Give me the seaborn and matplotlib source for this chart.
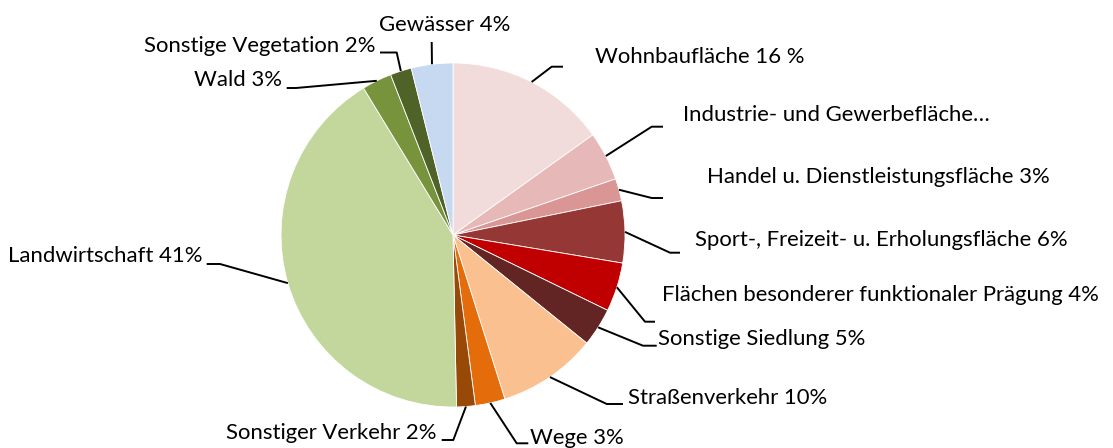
import matplotlib
matplotlib.use("Agg")
import matplotlib.pyplot as plt
import seaborn as sns
import numpy as np

# Flächennutzung: Anteile, im Uhrzeigersinn ab 12 Uhr
categories = [
    "Wohnbaufläche", "Industrie- und Gewerbefläche", "Handel u. Dienstleistungsfläche",
    "Sport-, Freizeit- u. Erholungsfläche", "Flächen besonderer funktionaler Prägung",
    "Sonstige Siedlung", "Straßenverkehr", "Wege", "Sonstiger Verkehr",
    "Landwirtschaft", "Wald", "Sonstige Vegetation", "Gewässer",
]
shares = [15.1, 4.6, 2.1, 5.8, 4.6, 3.6, 9.3, 2.8, 1.75, 41.6, 2.8, 2.0, 3.9]
labels = [
    "Wohnbaufläche 16 %", "Industrie- und Gewerbefläche…", "Handel u. Dienstleistungsfläche 3%",
    "Sport-, Freizeit- u. Erholungsfläche 6%", "Flächen besonderer funktionaler Prägung 4%",
    "Sonstige Siedlung 5%", "Straßenverkehr 10%", "Wege 3%", "Sonstiger Verkehr 2%",
    "Landwirtschaft 41%", "Wald 3%", "Sonstige Vegetation 2%", "Gewässer 4%",
]
colors = [
    "#F2DCDB", "#E6B9B8", "#D99694", "#953735", "#C00000", "#632523",
    "#FAC090", "#E46C0A", "#984807", "#C3D69B", "#77933C", "#4F6228", "#C6D9F1",
]

# layout of the labels in pixel coordinates:
# (text x, text y, alignment, elbow x, elbow y, end x)
label_layout = [
    (595, 57, "left", 551.7, 66.7, 563),
    (683, 115, "left", 651.7, 126.7, 663),
    (707, 177, "left", 651.7, 198, 663),
    (695, 240, "left", 670, 252.7, 680),
    (662, 295, "left", 645, 321.7, 655),
    (658, 339, "left", 643, 345.7, 656.7),
    (628, 398, "left", 606.7, 404, 623),
    (530, 438, "left", 516.7, 443.3, 528.3),
    (437, 433, "right", 453.3, 440, 441.7),
    (202, 256, "right", 220, 264, 206.7),
    (282, 80, "right", 296, 88, 286.7),
    (375, 46, "right", 396.7, 52.5, 380),
    (445, 25, "center", 431.7, 42, 431.7),
]

W, H = 1113, 448
cx, cy, r = 453, 235, 172

sns.set_theme(style="white")
plt.rcParams["font.family"] = ["Lato", "DejaVu Sans"]

fig = plt.figure(figsize=(W / 100, H / 100), dpi=100)
ax = fig.add_axes([0, 0, 1, 1])

wedges, _ = ax.pie(
    shares,
    colors=sns.color_palette(colors),
    startangle=90,
    counterclock=False,
    center=(cx, H - cy),
    radius=r,
    wedgeprops=dict(edgecolor="white", linewidth=0.6),
)

for w, lab, (tx, ty, ha, ex, ey, endx) in zip(wedges, labels, label_layout):
    ang = np.deg2rad((w.theta1 + w.theta2) / 2)
    sx = cx + r * np.cos(ang)
    sy = (H - cy) + r * np.sin(ang)
    ax.plot([sx, ex, endx], [sy, H - ey, H - ey], color="black", lw=1.4,
            solid_capstyle="butt", zorder=3)
    ax.text(tx, H - ty, lab, ha=ha, va="center", fontsize=15.9, color="black")

ax.set_xlim(0, W)
ax.set_ylim(0, H)
ax.set_aspect("equal")
ax.axis("off")

fig.savefig("out.png", dpi=100, facecolor="white")
